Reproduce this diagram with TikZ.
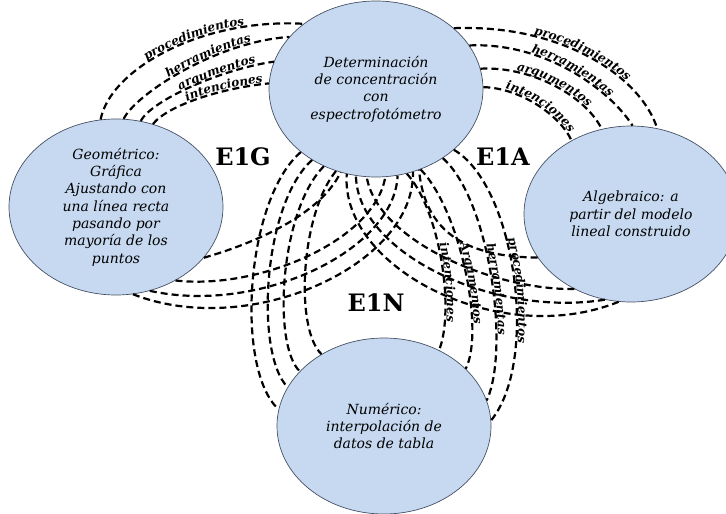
\documentclass[tikz,border=0pt]{standalone}
\usepackage{fontspec}
\setmainfont{DejaVu Serif}
\usetikzlibrary{shapes.geometric,decorations.text}
\definecolor{ellfill}{RGB}{198,217,240}
\definecolor{ellline}{RGB}{70,80,100}
\newcommand\arcfont{\fontsize{12}{12}\selectfont\bfseries\itshape}
\begin{document}
\begin{tikzpicture}[x=1pt,y=-1pt,
  ell/.style={ellipse, draw=ellline, line width=0.7pt, fill=ellfill,
    minimum width=214pt, minimum height=176pt, inner sep=0pt, align=center,
    font=\fontsize{14}{17.3}\selectfont\itshape},
  link/.style={line width=2.2pt, dash pattern=on 7pt off 4pt},
  lab/.style={font=\fontsize{24}{24}\selectfont\bfseries},
  arclab/.style={decorate, decoration={text along path, raise=1.5pt, #1}}
]
\useasboundingbox (0,0) rectangle (726,514);

\node[ell] (T) at (376,89) {Determinación\\de concentración\\con\\espectrofotómetro};
\node[ell] (G) at (116,207) {Geométrico:\\Gráfica\\Ajustando con\\una línea recta\\pasando por\\mayoría de los\\puntos};
\node[ell] (A) at (631,214) {Algebraico: a\\partir del modelo\\lineal construido};
\node[ell] (N) at (384,426) {Numérico:\\interpolación de\\datos de tabla};

\node[lab] (e1g) at (243,157) {E1G};
\node[lab] (e1a) at (503,157) {E1A};
\node[lab] (e1n) at (376,303) {E1N};

% E1G upper arcs
\draw[link] (G.100) .. controls (110,70) and (200,18) .. (T.138);
\path[arclab={text={|\arcfont|procedimientos}, text align={left, left indent=76pt}}] (G.100) .. controls (110,70) and (200,18) .. (T.138);
\draw[link] (G.85) .. controls (135,95) and (215,42) .. (T.149);
\path[arclab={text={|\arcfont|herramientas}, text align={left, left indent=61pt}}] (G.85) .. controls (135,95) and (215,42) .. (T.149);
\draw[link] (G.74) .. controls (152,100) and (222,69) .. (T.165);
\path[arclab={text={|\arcfont|argumentos}, text align={left, left indent=50pt}}] (G.74) .. controls (152,100) and (222,69) .. (T.165);
\draw[link] (G.66) .. controls (168,105) and (222,88) .. (T.177);
\path[arclab={text={|\arcfont|intenciones}, text align={left, left indent=41pt}}] (G.66) .. controls (168,105) and (222,88) .. (T.177);

% E1A upper arcs
\draw[link] (T.38) .. controls (560,24) and (640,75) .. (A.73);
\path[arclab={text={|\arcfont|procedimientos}, text align={left, left indent=80pt}}] (T.38) .. controls (560,24) and (640,75) .. (A.73);
\draw[link] (T.25) .. controls (545,42) and (610,90) .. (A.89);
\path[arclab={text={|\arcfont|herramientas}, text align={left, left indent=62pt}}] (T.25) .. controls (545,42) and (610,90) .. (A.89);
\draw[link] (T.11) .. controls (530,66) and (585,95) .. (A.109);
\path[arclab={text={|\arcfont|argumentos}, text align={left, left indent=36pt}}] (T.11) .. controls (530,66) and (585,95) .. (A.109);
\draw[link] (T.1) .. controls (520,88) and (560,115) .. (A.129);
\path[arclab={text={|\arcfont|intenciones}, text align={left, left indent=22pt}}] (T.1) .. controls (520,88) and (560,115) .. (A.129);

% E1N left arcs
\draw[link] (T.220) .. controls (245,200) and (235,370) .. (N.171);
\draw[link] (T.228) .. controls (262,205) and (255,355) .. (N.158);
\draw[link] (T.236) .. controls (280,210) and (272,345) .. (N.147);
\draw[link] (T.244) .. controls (300,215) and (295,330) .. (N.131);

% E1N right arcs
\draw[link] (T.-70) .. controls (440,210) and (455,310) .. (N.54);
\path[arclab={text={|\arcfont|intenciones}, text align={left, left indent=78pt}}] (T.-70) .. controls (440,210) and (455,310) .. (N.54);
\draw[link] (T.-61) .. controls (460,210) and (485,330) .. (N.35);
\path[arclab={text={|\arcfont|Argumentos}, text align={left, left indent=84pt}}] (T.-61) .. controls (460,210) and (485,330) .. (N.35);
\draw[link] (T.-46) .. controls (490,200) and (510,350) .. (N.14);
\path[arclab={text={|\arcfont|herramientas}, text align={left, left indent=98pt}}] (T.-46) .. controls (490,200) and (510,350) .. (N.14);
\draw[link] (T.-38) .. controls (515,185) and (540,360) .. (N.3);
\path[arclab={text={|\arcfont|procedimientos}, text align={left, left indent=106pt}}] (T.-38) .. controls (515,185) and (540,360) .. (N.3);

% E1G lower arcs
\draw[link] (G.-30) .. controls (255,243) and (320,215) .. (T.247);
\draw[link] (G.-51) .. controls (260,290) and (375,240) .. (T.276);
\draw[link] (G.-68) .. controls (260,315) and (395,250) .. (T.284);
\draw[link] (G.-79) .. controls (250,340) and (415,265) .. (T.294);

% E1A lower arcs
\draw[link] (A.205) .. controls (470,257) and (425,235) .. (T.298);
\draw[link] (A.233) .. controls (492,290) and (377,240) .. (T.264);
\draw[link] (A.253) .. controls (492,318) and (357,252) .. (T.257);
\draw[link] (A.262) .. controls (500,350) and (340,268) .. (T.251);
\end{tikzpicture}
\end{document}
